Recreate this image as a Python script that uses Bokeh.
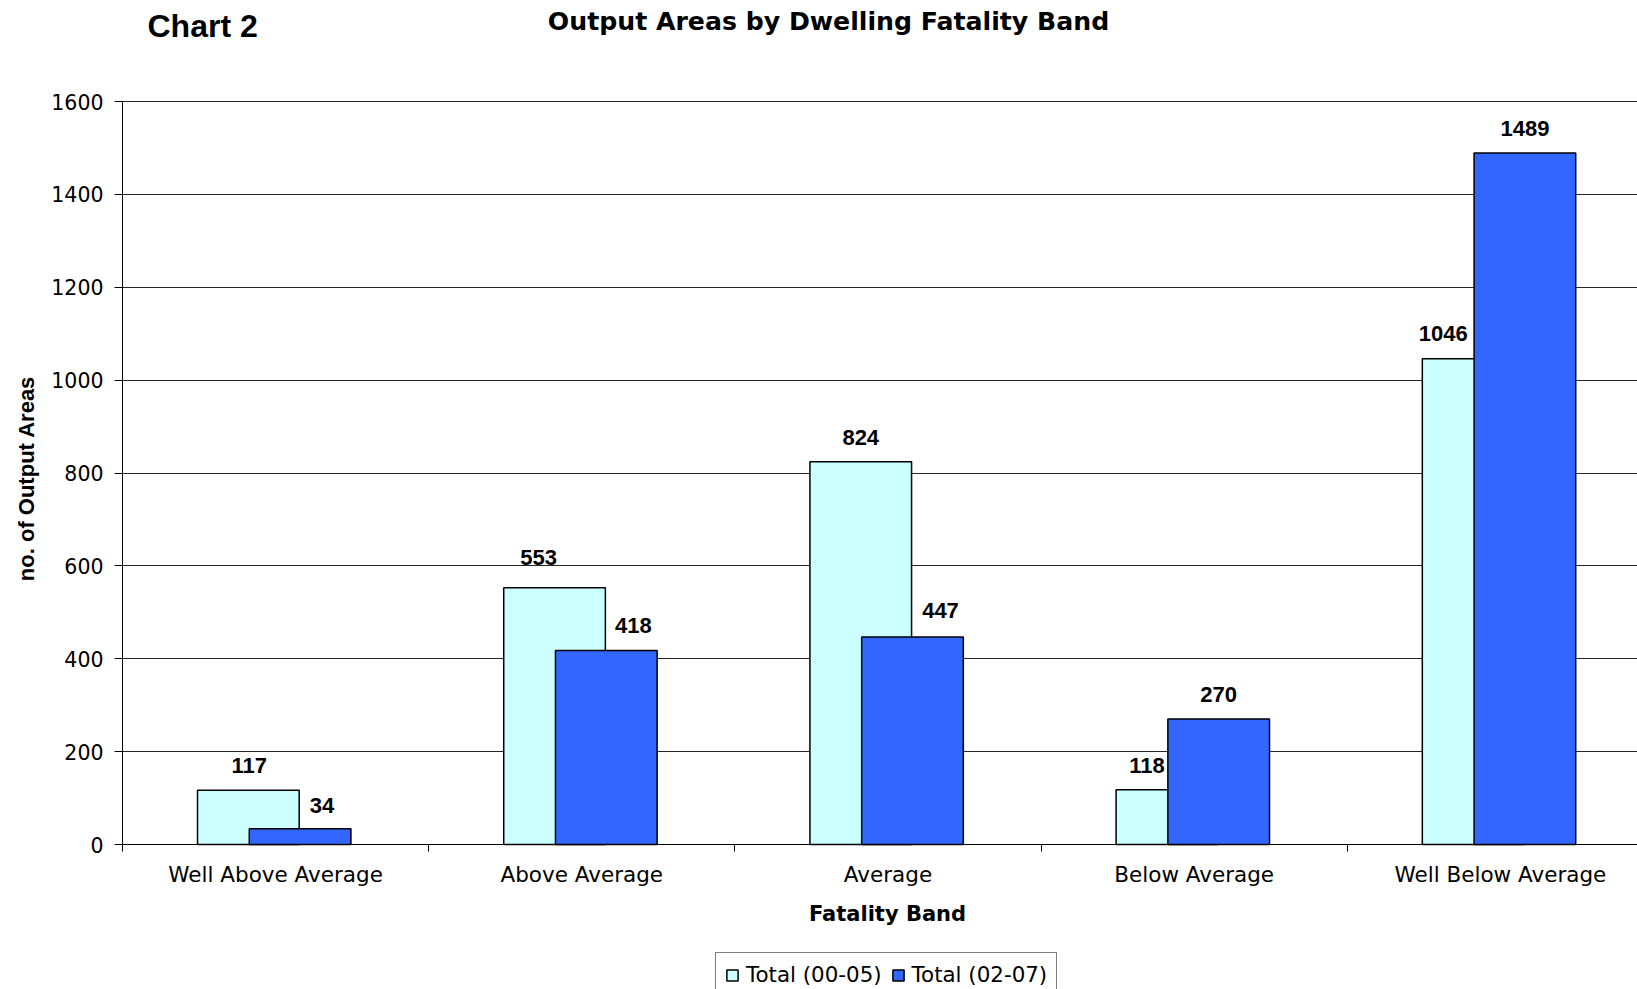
import math
from bokeh.plotting import figure
from bokeh.models import (ColumnDataSource, Range1d, FixedTicker, LabelSet, Label,
                          Legend, LegendItem, BoxAnnotation)
from bokeh.core.properties import value
from bokeh.embed import file_html
from bokeh.resources import INLINE

categories = ["Well Above Average", "Above Average", "Average", "Below Average", "Well Below Average"]
total_00_05 = [117, 553, 824, 118, 1046]
total_02_07 = [34, 418, 447, 270, 1489]
series_names = ["Total (00-05)", "Total (02-07)"]
y_ticks = [0, 200, 400, 600, 800, 1000, 1200, 1400, 1600]
chart_label = "Chart 2"
chart_title = "Output Areas by Dwelling Fatality Band"
x_title = "Fatality Band"
y_title = "no. of Output Areas"

# label placement nudges (style, in pixels) as in the original chart
nudge_x_a = [1, -16, 0, -20, -30]
nudge_x_b = [22, 27, 28, 0, 0]
nudge_y_a = [17, 23, 17, 17, 18]
nudge_y_b = [16, 17, 19, 17, 17]

LIGHT = "#CCFFFF"
DARK = "#3366FF"

# page geometry (pixels)
W, H = 1637, 989
PLOT_LEFT, PLOT_TOP, PLOT_BOTTOM = 122, 101, 844
CAT_W = 306.2
Y_MAX = y_ticks[-1]
px_per_unit = (PLOT_BOTTOM - PLOT_TOP) / Y_MAX

x_start = -PLOT_LEFT / CAT_W
x_end = (W - PLOT_LEFT) / CAT_W
y_start = -(H - PLOT_BOTTOM) / px_per_unit
y_end = Y_MAX + PLOT_TOP / px_per_unit

n = len(categories)
xc = [i + 0.5 for i in range(n)]
bounds = [float(i) for i in range(n + 1)]
bar_w = 0.332
shift_a = 0.089
shift_b = 0.080

src = ColumnDataSource(dict(
    xa=[c - shift_a for c in xc], xb=[c + shift_b for c in xc],
    a=total_00_05, b=total_02_07,
    ta=[str(v) for v in total_00_05], tb=[str(v) for v in total_02_07],
    dxa=nudge_x_a, dxb=nudge_x_b, dya=nudge_y_a, dyb=nudge_y_b))

p = figure(width=W, height=H, output_backend="svg", toolbar_location=None,
           x_range=Range1d(x_start, x_end), y_range=Range1d(y_start, y_end),
           min_border=0, min_border_left=0, min_border_right=0,
           min_border_top=0, min_border_bottom=0)
p.outline_line_color = None
p.background_fill_color = "white"
p.border_fill_color = "white"

ra = p.vbar(x="xa", top="a", width=bar_w, bottom=0, source=src,
            fill_color=LIGHT, line_color="black", line_width=1.5)
rb = p.vbar(x="xb", top="b", width=bar_w, bottom=0, source=src,
            fill_color=DARK, line_color="black", line_width=1.5)

for s in ("a", "b"):
    p.add_layout(LabelSet(x="x" + s, y=s, text="t" + s, source=src,
                          x_offset="dx" + s, y_offset="dy" + s,
                          text_align="center", text_baseline="alphabetic",
                          text_font=value("Liberation Sans"), text_font_style="bold",
                          text_font_size="22px", text_color="black"))

# axes
xa = p.xaxis[0]
xa.fixed_location = 0
xa.bounds = (0, n)
xa.ticker = FixedTicker(ticks=xc, minor_ticks=bounds)
xa.major_label_overrides = {c: nm for c, nm in zip(xc, categories)}
xa.major_tick_out = 0
xa.major_tick_in = 0
xa.major_tick_line_color = None
xa.minor_tick_out = 7
xa.minor_tick_in = 0
xa.minor_tick_line_color = "black"
xa.axis_line_color = "black"
xa.axis_line_width = 1
xa.major_label_standoff = 10
xa.major_label_text_font = "DejaVu Sans"
xa.major_label_text_font_size = "21.5px"
xa.major_label_text_color = "black"

ya = p.yaxis[0]
ya.fixed_location = 0
ya.bounds = (0, Y_MAX)
ya.ticker = FixedTicker(ticks=y_ticks)
ya.major_tick_out = 8
ya.major_tick_in = 0
ya.major_tick_line_color = "black"
ya.minor_tick_line_color = None
ya.axis_line_color = "black"
ya.major_label_standoff = 11
ya.major_label_text_font = "DejaVu Sans"
ya.major_label_text_font_size = "20.5px"
ya.major_label_text_color = "black"

p.xgrid.visible = False
p.ygrid.ticker = FixedTicker(ticks=y_ticks)
p.ygrid.grid_line_color = "black"
p.ygrid.grid_line_alpha = 0.85
p.ygrid.grid_line_width = 1
try:
    p.ygrid.cross_bounds = (0, n)
except Exception:
    p.add_layout(BoxAnnotation(right=0, fill_color="white", fill_alpha=1,
                               line_color=None, level="underlay"))

# axis titles
p.add_layout(Label(x=887, y=H - 913, x_units="screen", y_units="screen", text=x_title,
                   text_align="center", text_baseline="middle", text_font="DejaVu Sans",
                   text_font_style="bold", text_font_size="21px", text_color="black"))
p.add_layout(Label(x=26, y=H - 478, x_units="screen", y_units="screen", text=y_title,
                   angle=math.pi / 2, text_align="center", text_baseline="middle",
                   text_font="Liberation Sans", text_font_style="bold",
                   text_font_size="22px", text_color="black"))

# titles
p.add_layout(Label(x=828, y=H - 21, x_units="screen", y_units="screen", text=chart_title,
                   text_align="center", text_baseline="middle", text_font="DejaVu Sans",
                   text_font_style="bold", text_font_size="25.2px", text_color="black"))
p.add_layout(Label(x=147, y=H - 25, x_units="screen", y_units="screen", text=chart_label,
                   text_align="left", text_baseline="middle", text_font="Liberation Sans",
                   text_font_style="bold", text_font_size="32px", text_color="black"))

legend = Legend(items=[LegendItem(label=series_names[0], renderers=[ra]),
                       LegendItem(label=series_names[1], renderers=[rb])],
                location=(715, -8), orientation="horizontal",
                glyph_width=14, glyph_height=14, label_standoff=7, spacing=9,
                padding=9, margin=0,
                label_text_font="DejaVu Sans", label_text_font_size="21.4px",
                label_text_color="black",
                border_line_color="black", border_line_width=1,
                background_fill_color="white", background_fill_alpha=1)
p.add_layout(legend)

open("out.html", "w").write(file_html(p, INLINE))
